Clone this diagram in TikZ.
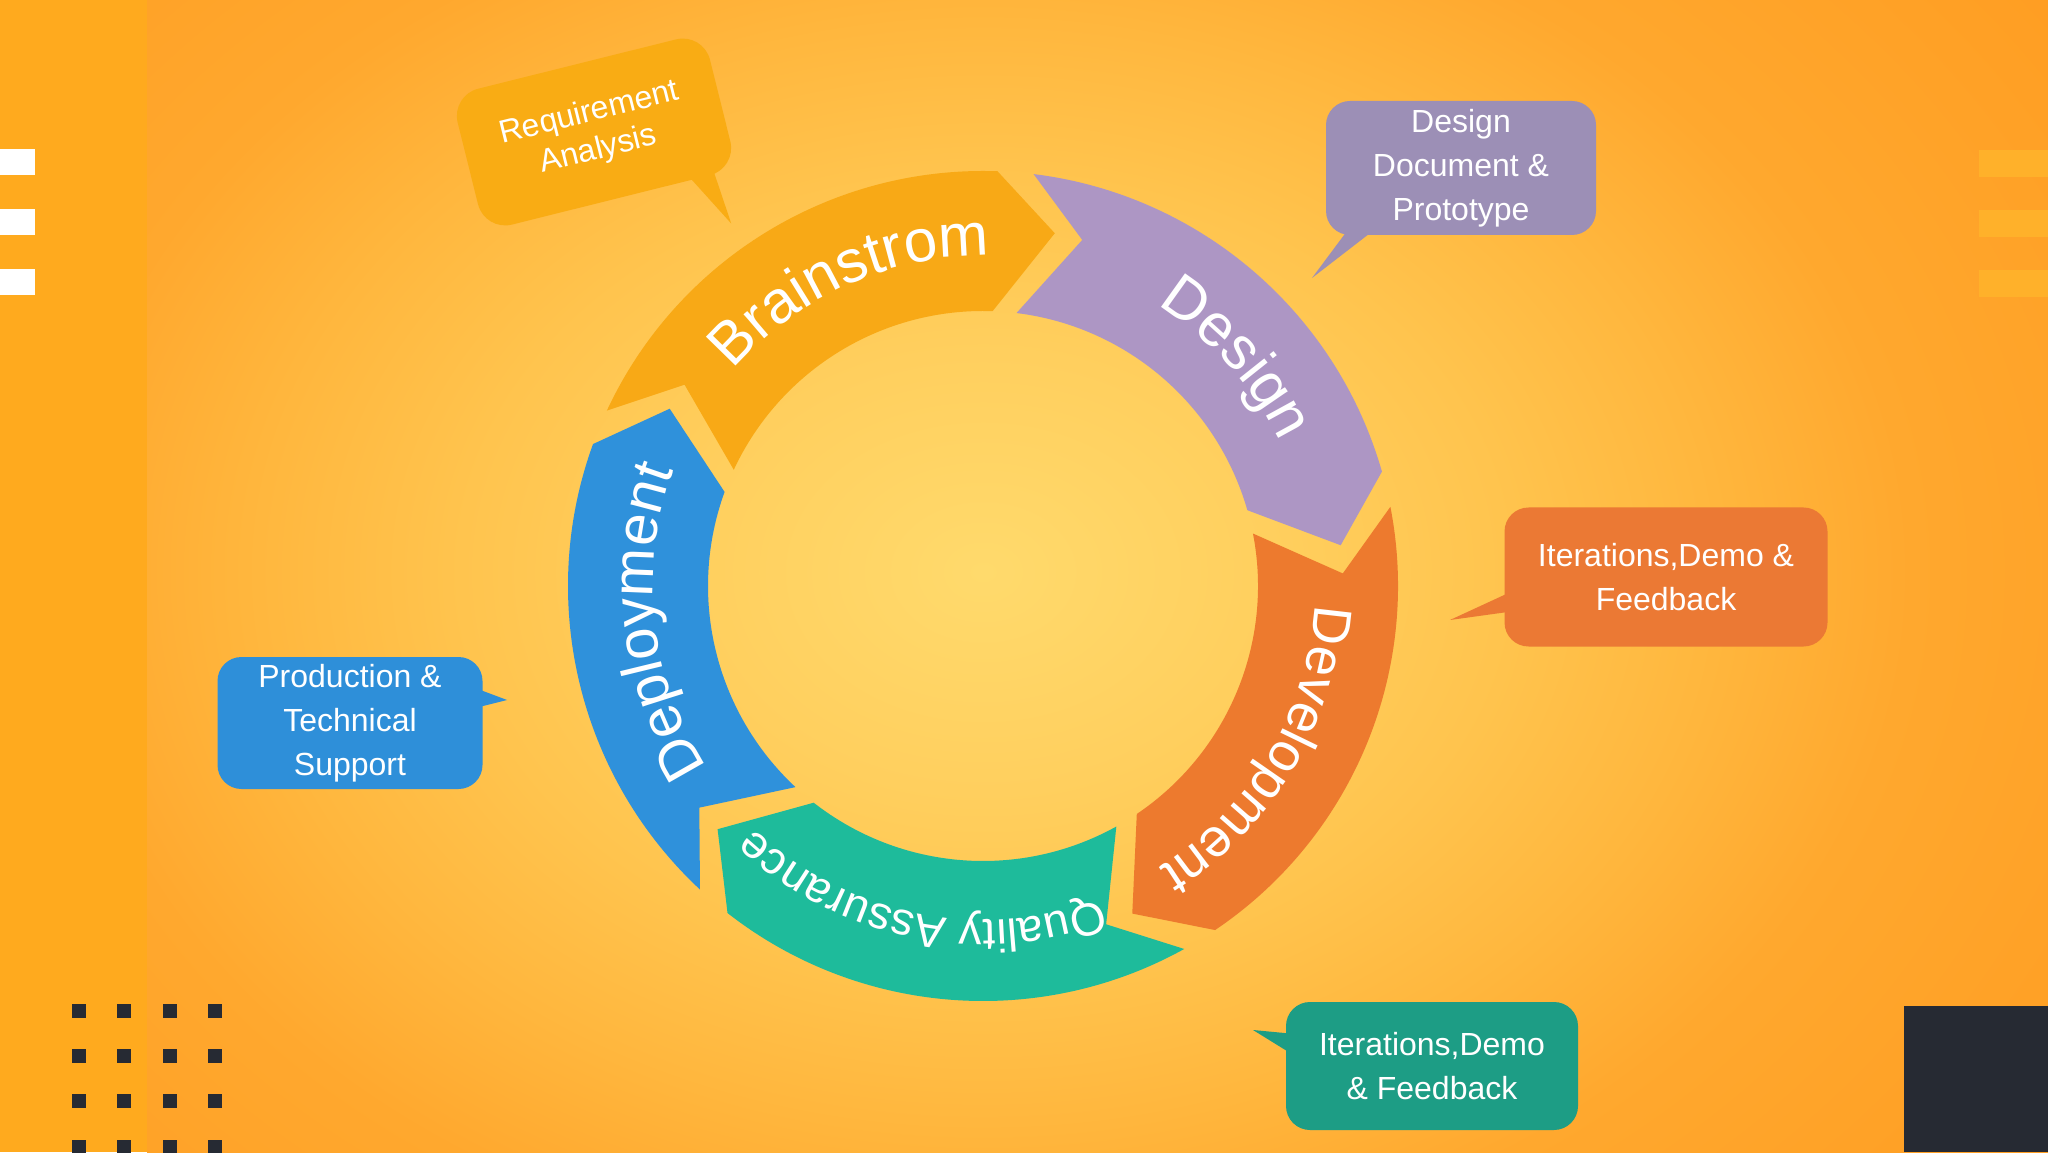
\documentclass[tikz,border=0pt]{standalone}
\usepackage{fontspec}
\setmainfont{Liberation Sans}
\usetikzlibrary{decorations.text}
\definecolor{stripcol}{HTML}{FFAA1E}
\definecolor{bgA}{HTML}{FFDA6C}
\definecolor{bgB}{HTML}{FFCF5E}
\definecolor{bgC}{HTML}{FFC44E}
\definecolor{bgD}{HTML}{FFB73E}
\definecolor{bgE}{HTML}{FFA82E}
\definecolor{bgF}{HTML}{FF9A1E}
\pgfdeclareradialshading{bgshade}{\pgfpoint{0bp}{0bp}}{color(0bp)=(bgA); color(5bp)=(bgB); color(9bp)=(bgC); color(12.5bp)=(bgD); color(16bp)=(bgE); color(25bp)=(bgF); color(50bp)=(bgF)}
\definecolor{barR}{HTML}{FFB12A}
\definecolor{darkbox}{HTML}{262A33}
\definecolor{bscol}{HTML}{F8A916}
\definecolor{dscol}{HTML}{AD96C4}
\definecolor{dvcol}{HTML}{ED7A2E}
\definecolor{qacol}{HTML}{1EBB9B}
\definecolor{dpcol}{HTML}{2F91DB}
\definecolor{reqcol}{HTML}{F9AC14}
\definecolor{ddcol}{HTML}{9C8FB6}
\definecolor{itocol}{HTML}{EB7934}
\definecolor{prcol}{HTML}{2E8FD9}
\definecolor{ittcol}{HTML}{1D9D85}
\newcommand\bubfont{\fontsize{16}{22}\selectfont}
\begin{document}
\begin{tikzpicture}[x=0.5pt,y=0.5pt,
  bubble/.style={rounded corners=12pt, text=white, align=center, font=\bubfont, inner sep=0pt},
  ringlabel/.style={decorate, decoration={text along path, text align=center, text color=white}}]
\useasboundingbox (0,0) rectangle (2048,1152);
% background
\fill[stripcol] (0,0) rectangle (147,1152);
\begin{scope}
  \clip (147,0) rectangle (2048,1152);
  \shade[shading=bgshade] (983,580) ellipse [x radius=1450, y radius=1100];
\end{scope}
\foreach \yy in {977,917,857} \fill[white] (0,\yy) rectangle (35,\yy+26);
\foreach \yy in {975,915,855} \fill[barR] (1979,\yy) rectangle (2048,\yy+27);
\foreach \xx in {72,117,163,208} \foreach \yy in {134,89,44,-2} \fill[darkbox] (\xx,\yy) rectangle ++(14,14);
\fill[darkbox] (1904,0) rectangle (2048,146);
% ring
\coordinate (C) at (983,566);
\begin{scope}[shift={(983,566)}]
\foreach \a/\col in {155/bscol,83/dscol,11/dvcol,-61/qacol,-133/dpcol}{
  \pgfmathsetmacro\hb{\a-67}
  \pgfmathsetmacro\tp{\a-76.5}
  \pgfmathsetmacro\nt{\a-9}
  \fill[\col] (\a:415) arc[start angle=\a, end angle=\hb, radius=415] -- (\tp:360) -- (\hb:275) arc[start angle=\hb, end angle=\a, radius=275] -- (\nt:360) -- cycle;
}
\path[ringlabel, decoration={text={|\fontsize{30}{30}\selectfont|Brainstrom}}] (162:330) arc[start angle=162, end angle=66, radius=330];
\path[ringlabel, decoration={text={|\fontsize{30}{30}\selectfont|Design}}] (90:330) arc[start angle=90, end angle=-6, radius=330];
\path[ringlabel, decoration={text={|\fontsize{27}{27}\selectfont|Development}}] (17.4:332) arc[start angle=17.4, end angle=-78.6, radius=332];
\path[ringlabel, decoration={text={|\fontsize{23}{23}\selectfont|Quality Assurance}}] (-53.4:334) arc[start angle=-53.4, end angle=-149.4, radius=334];
\path[ringlabel, decoration={text={|\fontsize{29}{29}\selectfont|Deployment}}] (234.4:330) arc[start angle=234.4, end angle=138.4, radius=330];
\end{scope}
% bubbles
\begin{scope}[shift={(594,1020)}, rotate=14]
  \node[bubble, transform shape, fill=reqcol, minimum width=130pt, minimum height=70pt, rounded corners=14pt, font=\fontsize{16}{19}\selectfont] (req) at (0,0) {Requirement\\Analysis};
  \coordinate (reqtip) at (111,-122);
  \fill[reqcol] (78,-60) -- (reqtip) -- (106,-60) -- cycle;
\end{scope}
\node[bubble, fill=ddcol, minimum width=135pt, minimum height=67pt] (ddoc) at (1461,984) {Design\\Document \&\\Prototype};
\coordinate (ddtip) at (1312,874);
\fill[ddcol] (1350,925) -- (ddtip) -- (1378,925) -- cycle;
\node[bubble, fill=itocol, minimum width=161.5pt, minimum height=69.5pt] (itero) at (1666,575) {Iterations,Demo \&\\Feedback};
\coordinate (itotip) at (1450,532);
\fill[itocol] (1515,562) -- (itotip) -- (1515,541) -- cycle;
\node[bubble, fill=prcol, minimum width=132.5pt, minimum height=66pt] (prod) at (350,429) {Production \&\\Technical\\Support};
\coordinate (prtip) at (507,452);
\fill[prcol] (475,464) -- (prtip) -- (475,444) -- cycle;
\node[bubble, fill=ittcol, minimum width=146pt, minimum height=64pt] (itert) at (1432,86) {Iterations,Demo\\\& Feedback};
\coordinate (ittip) at (1253,122);
\fill[ittcol] (1295,118) -- (ittip) -- (1295,96) -- cycle;
\end{tikzpicture}
\end{document}
